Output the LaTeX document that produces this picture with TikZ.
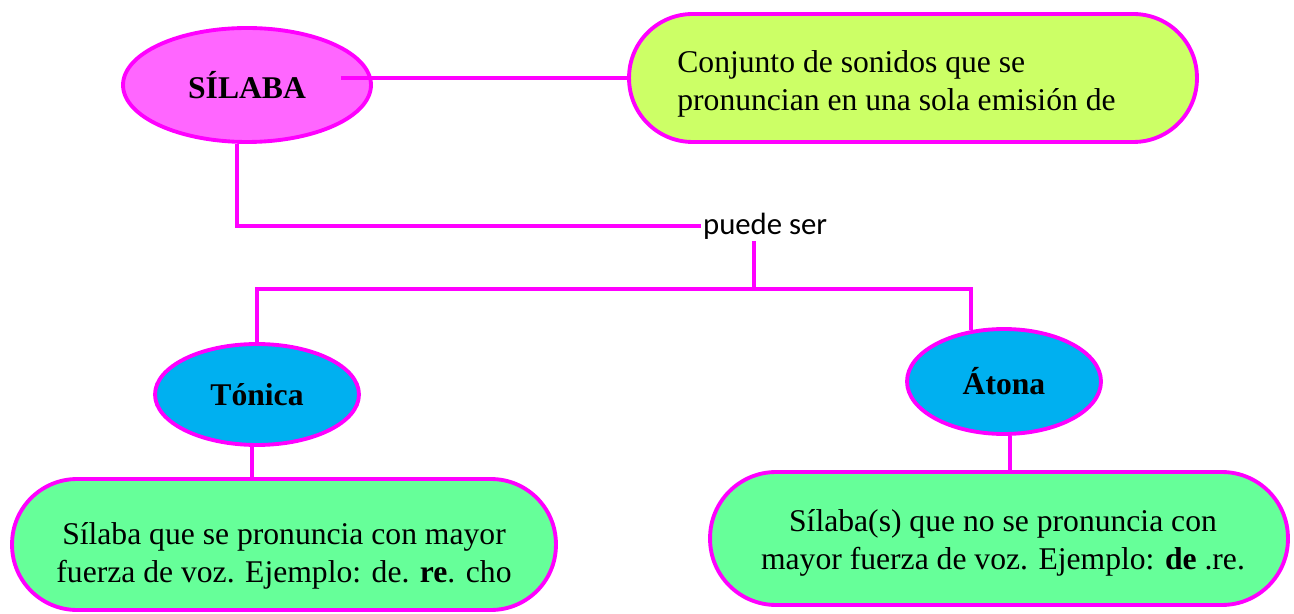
\documentclass[tikz,border=0pt]{standalone}
\usepackage{fontspec}
\setmainfont{Liberation Serif}
\newfontfamily\calibri{Carlito}
\usetikzlibrary{shapes.geometric}
\definecolor{borde}{HTML}{FF00FF}
\definecolor{rosa}{HTML}{FF66FF}
\definecolor{lima}{HTML}{CCFF66}
\definecolor{celeste}{HTML}{00B0F0}
\definecolor{menta}{HTML}{66FF99}
\tikzset{concepto/.style= {draw=borde, line width=2.2pt, ellipse, inner sep=0pt, font=\fontsize{18}{21}\selectfont\bfseries}}
\tikzset{caja/.style= {draw=borde, line width=2.2pt, rectangle, inner sep=0pt}}
\tikzset{texto/.style= {inner sep=0pt, align=center, font=\fontsize{18}{21.4}\selectfont}}
\tikzset{linea/.style= {draw=borde, line width=2.2pt}}

\begin{document}
\begin{tikzpicture}[x=0.02cm, y=-0.02cm]
        \useasboundingbox(0,0) rectangle (1294,614);

        \node[concepto, fill=rosa, minimum width=4.96cm, minimum height=2.28cm](silaba)at(247,85){SÍLABA};
        \node[caja, fill=lima, minimum width=11.36cm, minimum height=2.56cm, rounded corners=1.27cm](def)at(913,78){};
        \node[texto, align=left, anchor=west](deftxt)at(677,84){Conjunto de sonidos que se\\pronuncian en una sola emisión de};

        \node[inner sep=1pt, anchor=west, font=\calibri\fontsize{17.5}{20}\selectfont](puede)at(701,226){puede ser};
        \coordinate(fork)at(754,289);

        \node[concepto, fill=celeste, minimum width=4.08cm, minimum height=2.02cm](tonica)at(257,394.5){Tónica};
        \node[concepto, fill=celeste, minimum width=3.88cm, minimum height=2.1cm](atona)at(1004,381.5){Átona};

        \node[caja, fill=menta, minimum width=10.88cm, minimum height=2.62cm, rounded corners=1.3cm](tdef)at(284,544.5){};
        \node[texto](tdeftxt)at(284,556){Sílaba que se pronuncia con mayor\\fuerza de voz. Ejemplo: de. \textbf{re}. cho};
        \node[caja, fill=menta, minimum width=11.56cm, minimum height=2.66cm, rounded corners=1.32cm](adef)at(999,538.5){};
        \node[texto](adeftxt)at(1003,543){Sílaba(s) que no se pronuncia con\\mayor fuerza de voz. Ejemplo: \textbf{de} .re.};

        \draw[linea](silaba.east |- def.west) ++(-32,0)--(def.west);
        \draw[linea](silaba.260) |- (puede.west);
        \draw[linea](puede.south -| fork)--(fork);
        \draw[linea](tonica.north) |- (fork) -| (atona.123);
        \draw[linea](tonica.265)--(tonica.265 |- tdef.north);
        \draw[linea](atona.276)--(atona.276 |- adef.north);
    \end{tikzpicture}
\end{document}
